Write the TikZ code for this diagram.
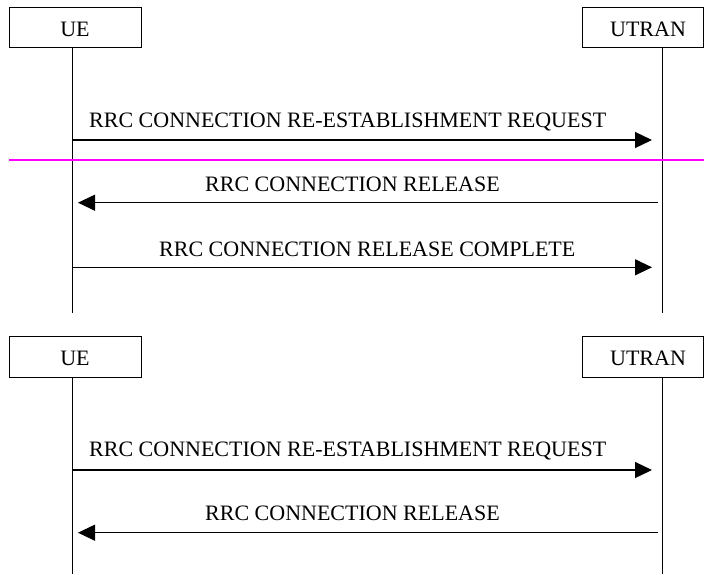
\documentclass[tikz,border=0pt]{standalone}
\usepackage{fontspec}
\setmainfont{Liberation Serif}
\usetikzlibrary{arrows.meta}
\begin{document}
\begin{tikzpicture}[x=1pt,y=-1pt,
  entity/.style={draw,line width=1pt,minimum width=132pt,minimum height=40.5pt,inner sep=0pt},
  lbl/.style={font=\fontsize{22}{24}\selectfont,inner sep=0pt},
  life/.style={line width=1pt},
  msg/.style={line width=1.2pt,-{Triangle[length=17pt,width=16pt]}},
  sep/.style={line width=1.3pt,draw={rgb,255:red,255;green,0;blue,255}}]
\useasboundingbox (0,0) rectangle (704,574);
% top diagram
\node[entity] (ue1) at (75,27.5) {};
\node[entity,minimum width=121pt] (ut1) at (642.5,27.5) {};
\node[lbl,anchor=base] (ue1t) at (75,36) {UE};
\node[lbl,anchor=base] (ut1t) at (648,36) {UTRAN};
\coordinate (ue1top) at (72.7,47.7);
\coordinate (ue1bot) at (72.7,313);
\coordinate (ut1top) at (662.3,47.7);
\coordinate (ut1bot) at (662.3,313);
\draw[life] (ue1top) -- (ue1bot);
\draw[life] (ut1top) -- (ut1bot);
% messages top
\coordinate (a1s) at (72.7,140);
\coordinate (a1e) at (652,140);
\draw[msg] (a1s) -- (a1e);
\node[lbl,anchor=base west] (m1) at (89,127) {RRC CONNECTION RE-ESTABLISHMENT REQUEST};
\coordinate (sepl) at (9,160);
\coordinate (sepr) at (704,160);
\draw[sep] (sepl) -- (sepr);
\coordinate (a2s) at (657.7,202.7);
\coordinate (a2e) at (78,202.7);
\draw[msg] (a2s) -- (a2e);
\node[lbl,anchor=base west] (m2) at (205,191.5) {RRC CONNECTION RELEASE};
\coordinate (a3s) at (72.7,267.3);
\coordinate (a3e) at (652,267.3);
\draw[msg] (a3s) -- (a3e);
\node[lbl,anchor=base west] (m3) at (159,256.5) {RRC CONNECTION RELEASE COMPLETE};
% bottom diagram
\node[entity] (ue2) at (75,357) {};
\node[entity,minimum width=121pt] (ut2) at (642.5,357) {};
\node[lbl,anchor=base] (ue2t) at (75,365.5) {UE};
\node[lbl,anchor=base] (ut2t) at (648,365.5) {UTRAN};
\coordinate (ue2top) at (72.7,377.2);
\coordinate (ue2bot) at (72.7,574);
\coordinate (ut2top) at (662.3,377.2);
\coordinate (ut2bot) at (662.3,574);
\draw[life] (ue2top) -- (ue2bot);
\draw[life] (ut2top) -- (ut2bot);
\coordinate (a4s) at (72.7,470);
\coordinate (a4e) at (652,470);
\draw[msg] (a4s) -- (a4e);
\node[lbl,anchor=base west] (m4) at (89,456.7) {RRC CONNECTION RE-ESTABLISHMENT REQUEST};
\coordinate (a5s) at (657.7,532.7);
\coordinate (a5e) at (78,532.7);
\draw[msg] (a5s) -- (a5e);
\node[lbl,anchor=base west] (m5) at (205,520.7) {RRC CONNECTION RELEASE};
\end{tikzpicture}
\end{document}
